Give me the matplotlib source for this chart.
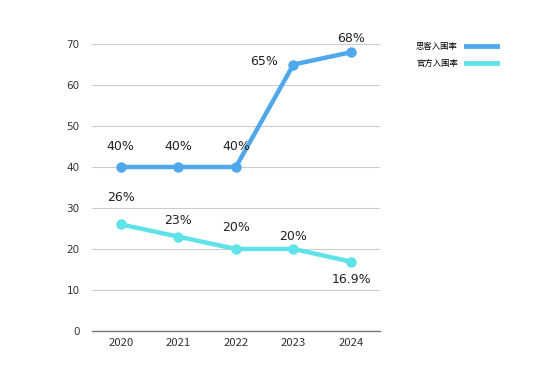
import matplotlib
matplotlib.use('Agg')
import matplotlib.pyplot as plt
from matplotlib.lines import Line2D

plt.rcParams['font.family'] = ['DejaVu Sans', 'Noto Sans CJK SC']

# Data
years = ['2020', '2021', '2022', '2023', '2024']
sike_rate = [40, 40, 40, 65, 68]
official_rate = [26, 23, 20, 20, 16.9]
sike_labels = ['40%', '40%', '40%', '65%', '68%']
official_labels = ['26%', '23%', '20%', '20%', '16.9%']
series_names = ['思客入围率', '官方入围率']

blue = '#4FA8EC'
cyan = '#5FE3E8'

fig = plt.figure(figsize=(5.41, 3.83), dpi=100)
ax = fig.add_axes([0.170, 0.136, 0.532, 0.749])

x = list(range(len(years)))
ax.plot(x, sike_rate, color=blue, lw=3.2, marker='o', ms=6.5, zorder=3)
ax.plot(x, official_rate, color=cyan, lw=3.2, marker='o', ms=6.5, zorder=3)

# data labels (offsets in pixels)
sike_off = [(0, 20), (0, 20), (0, 20), (-29, 3), (0, 14)]
off_off = [(0, 27), (0, 16), (0, 21), (0, 12), (0, -18)]
for i in x:
    ax.annotate(sike_labels[i], (i, sike_rate[i]), xytext=sike_off[i], textcoords='offset pixels',
                ha='center', va='center', fontsize=9, color='#222222')
    ax.annotate(official_labels[i], (i, official_rate[i]), xytext=off_off[i], textcoords='offset pixels',
                ha='center', va='center', fontsize=9, color='#222222')

ax.set_xlim(-0.5, 4.5)
ax.set_ylim(0, 70)
ax.set_yticks(range(0, 71, 10))
ax.set_xticks(x)
ax.set_xticklabels(years, family='Noto Sans CJK SC')
ax.tick_params(length=0, labelsize=7.5, colors='#333333')
ax.tick_params(axis='x', labelsize=8.2, pad=5)
ax.tick_params(axis='y', pad=9)
ax.grid(axis='y', color='#cccccc', lw=0.8)
ax.set_axisbelow(True)
for s in ['left', 'right', 'top']:
    ax.spines[s].set_visible(False)
ax.spines['bottom'].set_color('#777777')
ax.spines['bottom'].set_linewidth(1)

h2 = [Line2D([0], [0], color=blue, lw=3.5), Line2D([0], [0], color=cyan, lw=3.5)]
fig.legend(h2, series_names, loc='upper left', bbox_to_anchor=(0.755, 0.91), frameon=False,
           prop={'family': 'Noto Sans CJK SC', 'size': 6}, markerfirst=False,
           handlelength=3.7, handletextpad=1.0, labelspacing=0.9)

fig.savefig('out.png', dpi=100)
